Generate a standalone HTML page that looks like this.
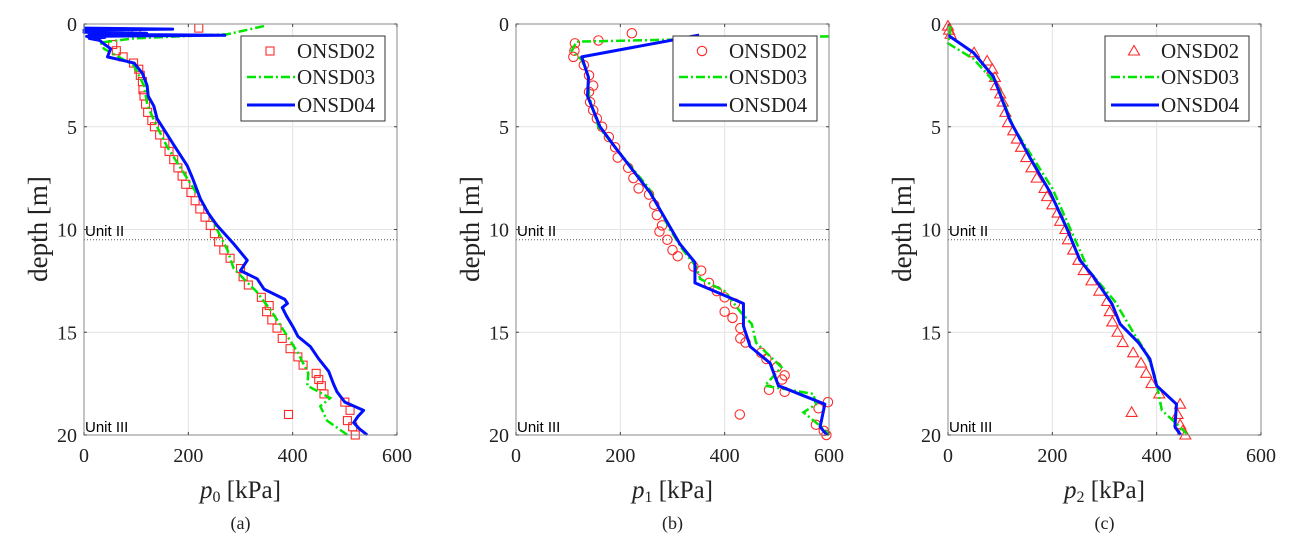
<!DOCTYPE html>
<html><head><meta charset="utf-8"><style>
html,body{margin:0;padding:0;background:#fff;}
svg{display:block;}
</style></head><body>
<svg id="fig" width="1292" height="554" xmlns="http://www.w3.org/2000/svg"></svg>
<script>
// ---- data (depth [m], pressure [kPa]) ----
const xTicks = [0, 200, 400, 600];
const yTicks = [0, 5, 10, 15, 20];
const seriesNames = ["ONSD02", "ONSD03", "ONSD04"];
const panelLabels = ["(a)", "(b)", "(c)"];
const panelSubs = ["0", "1", "2"];
const unitBoundary = 10.5;

const a04Depth = [0.2,0.25,0.3,0.35,0.4,0.45,0.5,0.55,0.6,0.65,0.7,0.8,1.0,1.2,1.6,1.9,2.4,3.0,3.5,4.0,4.6,5.4,6.0,6.9,7.5,8.5,9.2,9.8,10.7,11.5,12.0,12.4,12.9,13.4,13.6,13.8,14.2,14.8,15.2,15.7,16.3,16.9,17.5,17.9,18.4,18.8,19.1,19.4,19.7,20];
const a04Value = [0,170,0,60,0,120,10,270,5,40,10,30,40,51,45,96,112,121,123,134,140,160,175,198,208,223,238,255,287,313,300,332,345,385,390,380,388,402,410,434,450,469,478,485,500,536,525,517,528,543];
const a03Depth = [0.1,0.5,0.7,0.9,1.2,2,3,4,5,6,7,8,9,10,11,11.9,12.5,13,14,15,16,17,17.6,18.2,18.6,19.3,20];
const a03Value = [345,275,96,32,38,95,115,122,140,160,185,210,235,255,275,287,310,330,360,385,410,430,428,472,453,466,505];
const a02Points = [[0.2,220],[0.4,100],[1.0,55],[1.3,62],[1.6,75],[1.9,95],[2.2,105],[2.5,108],[2.8,112],[3.2,113],[3.5,115],[3.9,118],[4.3,122],[4.7,130],[5.0,135],[5.4,145],[5.8,155],[6.2,163],[6.6,172],[7.0,180],[7.4,188],[7.8,195],[8.2,205],[8.6,213],[9.0,222],[9.4,232],[9.8,242],[10.2,250],[10.6,258],[11.0,268],[11.4,280],[11.9,300],[12.3,305],[12.7,315],[13.3,340],[13.7,355],[14.0,350],[14.4,360],[14.8,370],[15.3,380],[15.8,395],[16.2,410],[16.6,420],[17.0,445],[17.3,450],[17.6,455],[18.0,460],[18.4,500],[18.8,510],[19.0,392],[19.3,505],[19.6,515],[20.0,520]];

const b04Depth = [0.54,1.6,2.6,3.5,5.0,6.1,8.2,10.7,11.6,12.6,13.6,14.7,15.7,16.5,17.6,18.5,19.6,20];
const b04Value = [351,126,139,137,161,193,257,314,343,343,436,436,449,487,503,592,583,596];
const b03Depth = [0.6,0.86,1.3,1.75,2.5,3.5,5,6,8,10,11,11.8,12.4,13,14,14.6,15.5,16,16.7,17.6,18,18.5,18.9,19.7,20];
const b03Value = [600,116,107,126,138,140,158,190,255,295,320,345,353,400,430,452,460,480,509,477,570,575,551,590,600];
const b02Points = [[0.45,222],[0.8,158],[0.94,113],[1.3,112],[1.6,110],[2.0,130],[2.5,140],[3.0,148],[3.3,140],[3.8,142],[4.2,148],[4.6,155],[5.0,165],[5.5,178],[6.0,190],[6.5,195],[7.0,215],[7.5,225],[8.0,235],[8.3,255],[8.8,265],[9.3,270],[9.8,280],[10.1,275],[10.5,290],[11.0,300],[11.3,310],[11.8,340],[12.0,355],[12.6,370],[13.0,385],[13.3,400],[13.6,420],[14.0,400],[14.3,415],[14.8,430],[15.3,430],[15.5,440],[16.0,470],[16.3,480],[16.7,500],[17.1,515],[17.3,510],[17.8,485],[17.9,515],[18.4,598],[18.7,580],[19.0,429],[19.5,575],[19.8,590],[20.0,595]];

const c04Depth = [0.54,1.4,2.56,4.7,6.5,8.2,9.9,11.5,12.3,13.6,14.6,15.5,16.3,17.6,18.5,19.6,20];
const c04Value = [0,49,87,119,157,196,227,253,279,314,330,365,387,400,438,435,446];
const c03Depth = [0.1,0.45,0.94,1.7,3,5,8,10,12,13.5,15,16,17,17.5,18.3,18.8,19.5,20];
const c03Value = [4,4,0,49,95,125,200,235,270,320,355,380,395,400,406,410,440,460];
const c02Points = [[0.1,0],[0.3,2],[0.5,5],[1.4,50],[1.8,75],[2.2,85],[2.6,90],[3.0,92],[3.4,100],[3.8,105],[4.3,110],[4.8,115],[5.2,125],[5.6,132],[6.0,140],[6.5,150],[7.0,160],[7.5,170],[8.0,185],[8.4,190],[8.8,200],[9.2,210],[9.6,215],[10.0,225],[10.5,230],[11.0,240],[11.5,250],[12.0,260],[12.5,275],[13.0,290],[13.5,305],[14.0,310],[14.5,315],[15.0,325],[15.5,335],[16.0,355],[16.5,370],[17.0,380],[17.5,390],[18.0,405],[18.5,445],[18.9,352],[19.0,440],[19.5,445],[19.8,450],[20.0,455]];

const panels = [
  {left:84, marker:"square", p02:a02Points, d03:a03Depth, v03:a03Value, d04:a04Depth, v04:a04Value},
  {left:516, marker:"circle", p02:b02Points, d03:b03Depth, v03:b03Value, d04:b04Depth, v04:b04Value},
  {left:948, marker:"triangle", p02:c02Points, d03:c03Depth, v03:c03Value, d04:c04Depth, v04:c04Value}
];

const NS = "http://www.w3.org/2000/svg";
const svg = document.getElementById("fig");
const TOP = 24, BOT = 435, W = 313;
function mk(tag, attrs, parent){ const e=document.createElementNS(NS,tag); for(const k in attrs) e.setAttribute(k,attrs[k]); parent.appendChild(e); return e; }
const serif = '"Liberation Serif", serif';
const sans = '"Liberation Sans", sans-serif';

function markerShape(type, x, y, g){
  let m;
  if(type==="square") m = mk("rect",{x:x-4,y:y-4,width:8,height:8,fill:"none",stroke:"#ff2a2a","stroke-width":1.1},g);
  else if(type==="circle") m = mk("circle",{cx:x,cy:y,r:4.7,fill:"none",stroke:"#ff2a2a","stroke-width":1.1},g);
  else m = mk("polygon",{points:`${x},${y-5.5} ${x-5.5},${y+4} ${x+5.5},${y+4}`,fill:"none",stroke:"#ff2a2a","stroke-width":1.1},g);
  return m;
}

panels.forEach((P, i) => {
  const sx = v => P.left + v / 600 * W;
  const sy = d => TOP + d / 20 * (BOT - TOP);
  const g = mk("g",{},svg);
  
  
  mk("rect",{x:P.left,y:TOP,width:W,height:BOT-TOP,fill:"#fff"},g);
  xTicks.slice(1,-1).forEach(t=>{ const l=mk("line",{x1:sx(t),x2:sx(t),y1:TOP,y2:BOT,stroke:"#e4e4e4","stroke-width":1},g);
      });
  yTicks.slice(1,-1).forEach(t=>{ const l=mk("line",{x1:P.left,x2:P.left+W,y1:sy(t),y2:sy(t),stroke:"#e4e4e4","stroke-width":1},g);
      });
  const ub = mk("line",{x1:P.left,x2:P.left+W,y1:sy(unitBoundary),y2:sy(unitBoundary),stroke:"#555","stroke-width":1,"stroke-dasharray":"1,2"},g);
   
  const u2 = mk("text",{x:P.left+1,y:236,"font-family":sans,"font-size":15,fill:"#000"},g); u2.textContent="Unit II";
   
  const u3 = mk("text",{x:P.left+1,y:432,"font-family":sans,"font-size":15,fill:"#000"},g); u3.textContent="Unit III";
   
  P.p02.forEach(p=>{ const m=markerShape(P.marker, sx(p[1]), sy(p[0]), g);
      });
  const l3 = mk("polyline",{points:P.d03.map((d,k)=>sx(P.v03[k])+","+sy(d)).join(" "),fill:"none",stroke:"#00e600","stroke-width":2.5,"stroke-dasharray":"9,3,2,3"},g);
   
  const l4 = mk("polyline",{points:P.d04.map((d,k)=>sx(P.v04[k])+","+sy(d)).join(" "),fill:"none",stroke:"#0010ff","stroke-width":3,"stroke-linejoin":"round"},g);
   
  const box = mk("rect",{x:P.left,y:TOP,width:W,height:BOT-TOP,fill:"none",stroke:"#888","stroke-width":1},g);
   
  xTicks.forEach(t=>{
    mk("line",{x1:sx(t),x2:sx(t),y1:BOT,y2:BOT-3,stroke:"#444"},g);
    mk("line",{x1:sx(t),x2:sx(t),y1:TOP,y2:TOP+3,stroke:"#444"},g);
    const tx=mk("text",{x:sx(t),y:462,"text-anchor":"middle","font-family":serif,"font-size":20,fill:"#222"},g); tx.textContent=t;
     
  });
  yTicks.forEach(t=>{
    mk("line",{x1:P.left,x2:P.left+3,y1:sy(t),y2:sy(t),stroke:"#444"},g);
    mk("line",{x1:P.left+W,x2:P.left+W-3,y1:sy(t),y2:sy(t),stroke:"#444"},g);
    const ty=mk("text",{x:P.left-7,y:sy(t)+7,"text-anchor":"end","font-family":serif,"font-size":20,fill:"#222"},g); ty.textContent=t;
     
  });
  const xl = mk("text",{x:P.left+W/2,y:498,"text-anchor":"middle","font-family":serif,"font-size":25,fill:"#222"},g);
   
  const t1=mk("tspan",{"font-style":"italic"},xl); t1.textContent="p";
  const t2=mk("tspan",{"font-size":16,dy:4},xl); t2.textContent=panelSubs[i];
  const t3=mk("tspan",{dy:-4},xl); t3.textContent=" [kPa]";
  const yl = mk("text",{x:0,y:0,"text-anchor":"middle","font-family":serif,"font-size":27,fill:"#222",transform:`translate(${P.left-37},229) rotate(-90)`},g);
  yl.textContent="depth [m]";
   
  const pl = mk("text",{x:P.left+W/2,y:529,"text-anchor":"middle","font-family":serif,"font-size":18,fill:"#222"},g);
  pl.textContent=panelLabels[i];
   
  const lg = mk("g",{},g);
   
  const lx = P.left+157, ly = 36;
  mk("rect",{x:lx,y:ly,width:144,height:85,fill:"#fff",stroke:"#333","stroke-width":1},lg);
  const rows=[51,77,105];
  markerShape(P.marker, lx+29, rows[0], lg);
  mk("line",{x1:lx+6,x2:lx+54,y1:rows[1],y2:rows[1],stroke:"#00e600","stroke-width":2.5,"stroke-dasharray":"9,3,2,3"},lg);
  mk("line",{x1:lx+6,x2:lx+54,y1:rows[2],y2:rows[2],stroke:"#0010ff","stroke-width":3},lg);
  seriesNames.forEach((n,k)=>{
    const t=mk("text",{x:lx+56,y:rows[k]+7,"font-family":serif,"font-size":21,fill:"#222"},lg); t.textContent=n;
     
  });
});
</script>
</body></html>
